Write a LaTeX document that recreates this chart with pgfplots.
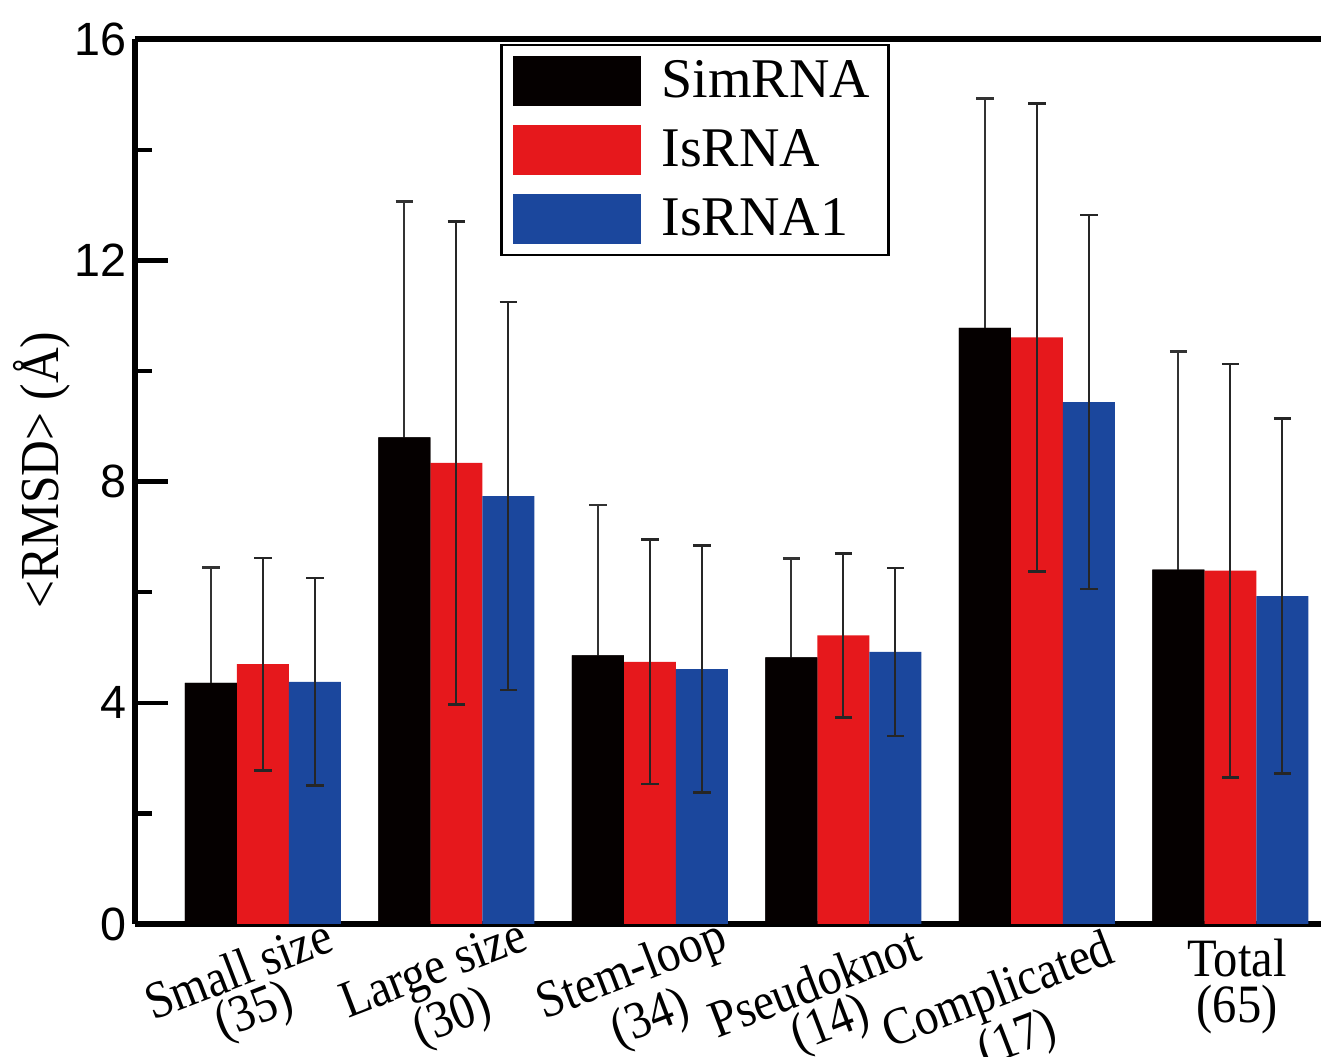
\documentclass[border=0pt]{standalone}
\usepackage{fontspec}
\setmainfont{Liberation Serif}
\newfontfamily\arialfont{Liberation Sans}
\newfontfamily\condserif[FakeStretch=0.9]{Liberation Serif}
\usepackage{pgfplots}
\usepackage{pgfplotstable}
\pgfplotsset{compat=1.18}
\definecolor{barred}{RGB}{230,24,28}
\definecolor{barblue}{RGB}{27,71,157}
\definecolor{barblack}{RGB}{5,0,0}

\pgfplotstableread{
x y err
0 4.36 2.09
1 8.80 4.27
2 4.86 2.72
3 4.82 1.79
4 10.78 4.15
5 6.41 3.94
}\simrna
\pgfplotstableread{
x y err
0 4.70 1.92
1 8.34 4.37
2 4.74 2.21
3 5.22 1.48
4 10.61 4.23
5 6.39 3.74
}\isrna
\pgfplotstableread{
x y err
0 4.38 1.88
1 7.74 3.51
2 4.61 2.23
3 4.92 1.52
4 9.44 3.38
5 5.93 3.21
}\isrnaone

\begin{document}
\begin{tikzpicture}
\begin{axis}[
  scale only axis,
  width=355.8pt, height=265.4pt,
  xmin=-0.661, xmax=5.468,
  ymin=0, ymax=16,
  ybar=0pt, bar width=15.6pt,
  axis x line*=box, axis y line*=left,
  axis line style={line width=1.7pt},
  xtick=\empty,
  ytick={0,4,8,12,16},
  minor ytick={2,6,10,14},
  tick align=inside,
  major tick length=10pt, minor tick length=5pt,
  every tick/.style={line width=1.3pt, black},
  yticklabel style={font=\arialfont\fontsize{14}{14}\selectfont, /pgf/number format/assume math mode=true, xshift=1pt},
  every axis y label/.style={at={(axis description cs:-0.0784,0.513)}, rotate=90, anchor=center, font=\condserif\fontsize{16.5}{18}\selectfont},
  ylabel={\textless RMSD\textgreater{} (Å)},
  clip=false,
  legend style={at={(axis description cs:0.3078,0.995)}, anchor=north west, draw=black, line width=0.8pt,
    font=\fontsize{16.8}{18}\selectfont, inner xsep=3.5pt, inner ysep=2.5pt, row sep=4.1pt,
    nodes={inner sep=2pt}, column sep=4pt},
  legend cell align=left,
  legend image code/.code={\fill[#1, draw=none] (0pt,-7.6pt) rectangle (38.5pt,7.6pt);},
  error bars/error bar style={line width=0.6pt, black!85},
  error bars/error mark options={rotate=90, mark size=2.6pt, line width=0.8pt, black!85},
]
\addplot[fill=barblack, draw=none, error bars/.cd, y dir=both, y explicit,
  error bar style={line width=0.6pt, black!80},
  error mark options={rotate=90, mark size=2.6pt, line width=0.8pt, black!80}] table[x=x, y=y, y error=err]{\simrna};
\addplot[fill=barred, draw=none, error bars/.cd, y dir=both, y explicit] table[x=x, y=y, y error=err]{\isrna};
\addplot[fill=barblue, draw=none, error bars/.cd, y dir=both, y explicit] table[x=x, y=y, y error=err]{\isrnaone};
% the bars of SimRNA are drawn again over its error bars: in the reference their lower halves are hidden
\addplot[fill=barblack, draw=none, bar shift=-15.6pt, forget plot] table[x=x, y=y]{\simrna};
\legend{SimRNA, IsRNA, IsRNA1}

\coordinate (SW) at (rel axis cs:0,0);
\coordinate (NE) at (rel axis cs:1,1);

\tikzset{xlab/.style={align=center, font=\condserif\fontsize{15.8}{12.6}\selectfont, inner sep=0pt}}
\node[xlab, rotate=21] at ([xshift=-4.6pt, yshift=-20.8pt]axis cs:0,0) {Small size\\(35)};
\node[xlab, rotate=21] at ([xshift=-3.7pt, yshift=-21.7pt]axis cs:1,0) {Large size\\(30)};
\node[xlab, rotate=21] at ([xshift=-2.5pt, yshift=-21.7pt]axis cs:2,0) {Stem-loop\\(34)};
\node[xlab, rotate=21] at ([xshift=-5.9pt, yshift=-24.7pt]axis cs:3,0) {Pseudoknot\\(14)};
\node[xlab, rotate=21] at ([xshift=-8.5pt, yshift=-28pt]axis cs:4,0) {Complicated\\(17)};
\node[xlab, font=\condserif\fontsize{16.2}{14}\selectfont] at ([xshift=2pt, yshift=-18.8pt]axis cs:5,0) {Total\\(65)};
\end{axis}
\pgfresetboundingbox
\useasboundingbox ([xshift=-40.5pt, yshift=-39.9pt]SW) rectangle ([yshift=11.8pt]NE);
\end{tikzpicture}
\end{document}
